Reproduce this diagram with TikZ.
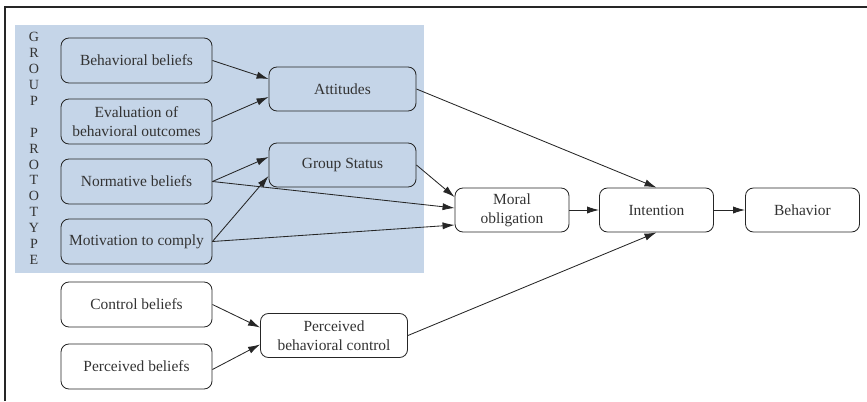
\documentclass[tikz,border=0pt]{standalone}
\usepackage{fontspec}
\setmainfont{Liberation Serif}
\usetikzlibrary{arrows.meta}
\definecolor{groupblue}{RGB}{197,213,232}

\begin{document}
\begin{tikzpicture}[x=0.025cm, y=-0.025cm,
  box/.style={draw=black!85, rounded corners=0.2cm, line width=0.6pt, align=center, text=black!80, font=\fontsize{11}{13.5}\selectfont, inner sep=0pt},
  lbox/.style={box, minimum width=3.775cm, minimum height=1.125cm},
  mbox/.style={box, minimum width=3.675cm, minimum height=1.1cm},
  rbox/.style={box, minimum width=2.85cm, minimum height=1.1cm},
  arr/.style={-{Latex[length=3mm,width=1.8mm]}, line width=0.6pt, draw=black!85}]
\useasboundingbox (0,0) rectangle (867,401);
\draw[line width=0.9pt, black!85] (5,401) -- (5,7) -- (867,7);
\fill[groupblue] (15,25) rectangle (424,273);
\node[align=center, text=black!80, font=\fontsize{10}{11.3}\selectfont, inner sep=0pt] (gp) at (34,148.5)
  {G\\R\\O\\U\\P\\[11.3pt]P\\R\\O\\T\\O\\T\\Y\\P\\E};

\node[lbox] (bb) at (136.5,60.5) {Behavioral beliefs};
\node[lbox] (eval) at (136.5,121.5) {Evaluation of\\behavioral outcomes};
\node[lbox] (nb) at (136.5,181.5) {Normative beliefs};
\node[lbox] (mc) at (136.5,241.5) {Motivation to comply};
\node[lbox] (cb) at (136.5,304.5) {Control beliefs};
\node[lbox] (pb) at (136.5,366.5) {Perceived beliefs};

\node[mbox] (att) at (342.5,89) {Attitudes};
\node[mbox] (gs) at (342.5,165) {Group Status};
\node[mbox] (pbc) at (334,335.5) {Perceived\\behavioral control};

\node[rbox] (mo) at (512,210) {Moral\\obligation};
\node[rbox] (int) at (656.5,210) {Intention};
\node[rbox] (beh) at (802.5,210) {Behavior};

\draw[arr] (bb.east) -- ([yshift=0.25cm]att.west);
\draw[arr] (eval.east) -- ([yshift=-0.2cm]att.west);
\draw[arr] (nb.east) -- ([yshift=0.2cm]gs.west);
\draw[arr] (mc.east) -- ([yshift=-0.275cm]gs.west);
\draw[arr] (nb.east) -- ([yshift=0.05cm]mo.west);
\draw[arr] (mc.east) -- ([yshift=-0.375cm]mo.west);
\draw[arr] (gs.east) -- ([yshift=0.325cm]mo.west);
\draw[arr] (att.east) -- (int.north);
\draw[arr] (mo) -- (int);
\draw[arr] (int) -- (beh);
\draw[arr] (cb.east) -- ([yshift=0.2cm]pbc.west);
\draw[arr] ([yshift=-0.075cm]pb.east) -- ([yshift=-0.225cm]pbc.west);
\draw[arr] (pbc.east) -- (int.south);
\end{tikzpicture}
\end{document}
